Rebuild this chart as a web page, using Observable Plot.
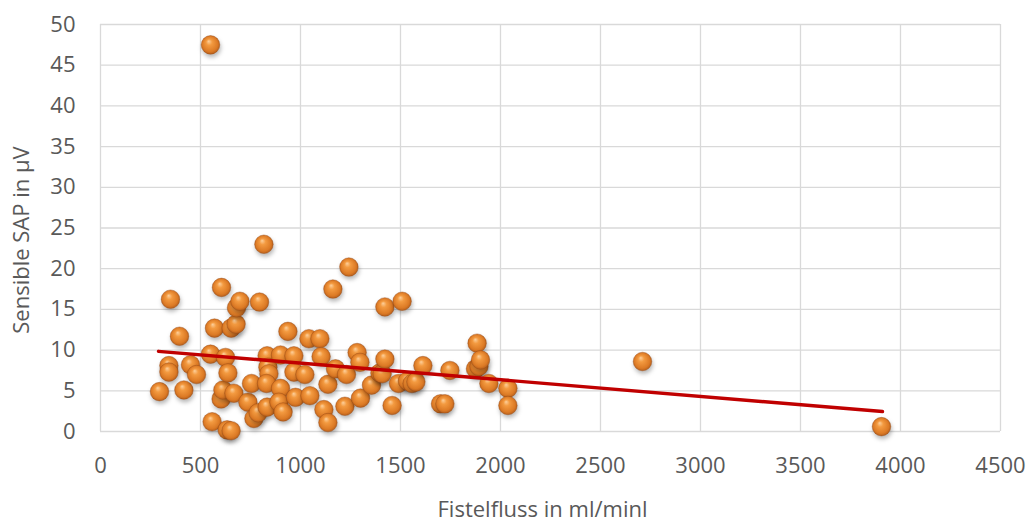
<!DOCTYPE html>
<html>
<head>
<meta charset="utf-8">
<script src="https://cdn.jsdelivr.net/npm/d3@7"></script>
<script src="https://cdn.jsdelivr.net/npm/@observablehq/plot@0.6"></script>
<style>
  html, body { margin: 0; padding: 0; background: #fff; }
  #chart svg { display: block; }
  .balls circle { filter: drop-shadow(1.5px 3px 2px rgba(0,0,0,0.28)); }
</style>
</head>
<body>
<div id="chart"></div>
<script>
// Fistelfluss (ml/min) values
const flow = [295,342,342,350,395,417,450,480,550,550,558,570,605,603,612,625,633,653,637,653,667,678,680,697,
  737,755,767,788,795,817,833,833,837,842,830,900,900,892,913,937,967,967,975,1022,1042,1047,1097,1103,1117,1137,
  1137,1162,1175,1222,1230,1242,1283,1297,1300,1355,1397,1408,1422,1422,1458,1490,1508,1535,1558,1577,1612,1700,
  1722,1747,1875,1883,1892,1900,1942,2037,2037,2710,3905];
// Sensible SAP (µV) values
const sap = [4.9,8.1,7.3,16.25,11.7,5.1,8.2,7.0,47.5,9.5,1.2,12.7,17.7,4.0,5.1,9.1,0.2,0.1,7.2,12.7,4.7,13.2,15.2,16.0,
  3.6,5.9,1.6,2.3,15.9,23.0,9.3,3.0,7.9,7.1,5.9,9.4,5.3,3.6,2.4,12.3,9.3,7.3,4.2,7.0,11.4,4.4,11.4,9.2,2.7,5.8,
  1.1,17.5,7.7,3.1,7.0,20.2,9.7,8.5,4.1,5.7,7.2,7.1,15.3,8.9,3.2,5.9,16.0,6.2,5.9,6.1,8.1,3.4,
  3.4,7.5,7.7,10.85,8.0,8.8,5.9,5.3,3.2,8.6,0.6];
// Linear trend line end points
const trendX = [290, 3910];
const trendY = [9.85, 2.45];
// Tick labels
const xTicks = [0,500,1000,1500,2000,2500,3000,3500,4000,4500];
const yTicks = [0,5,10,15,20,25,30,35,40,45,50];
const xLabel = "Fistelfluss in ml/minl";
const yLabel = "Sensible SAP in µV";

const points = flow.map((x, i) => ({x, y: sap[i]}));
const trend = trendX.map((x, i) => ({x, y: trendY[i]}));

const font = "'Open Sans', sans-serif";

const chart = Plot.plot({
  width: 1036,
  height: 524,
  marginLeft: 100,
  marginRight: 36,
  marginTop: 24,
  marginBottom: 93,
  style: {fontFamily: font, fontSize: "22px", color: "#595959", background: "#fff"},
  x: {domain: [0, 4500]},
  y: {domain: [0, 50]},
  marks: [
    Plot.gridX(xTicks, {stroke: "#d9d9d9", strokeOpacity: 1, strokeWidth: 1.3}),
    Plot.gridY(yTicks, {stroke: "#d9d9d9", strokeOpacity: 1, strokeWidth: 1.3}),
    Plot.axisX(xTicks, {tickSize: 0, tickPadding: 26, label: null, tickFormat: d => String(d), fill: "#595959", fontSize: 22}),
    Plot.axisY(yTicks, {tickSize: 0, tickPadding: 25, label: null, tickFormat: d => String(d), fill: "#595959", fontSize: 22}),
    Plot.dot(points, {x: "x", y: "y", r: 9.3, fill: "url(#ballGrad)", stroke: "#9a4a12", strokeWidth: 0.4, className: "balls"}),
    Plot.line(trend, {x: "x", y: "y", stroke: "#c00000", strokeWidth: 3.4}),
    Plot.text([yLabel], {frameAnchor: "left", rotate: -90, dx: -79, dy: 12, textAnchor: "middle", lineAnchor: "middle", fill: "#595959", fontSize: 22}),
    Plot.text([xLabel], {frameAnchor: "bottom", dy: 78, dx: -8, textAnchor: "middle", lineAnchor: "middle", fill: "#595959", fontSize: 22})
  ]
});

const ns = "http://www.w3.org/2000/svg";
const defs = document.createElementNS(ns, "defs");
defs.innerHTML = `
  <radialGradient id="ballGrad" cx="0.5" cy="0.5" r="0.55" fx="0.4" fy="0.3">
    <stop offset="0" stop-color="#fdd09c"/>
    <stop offset="0.3" stop-color="#f39a40"/>
    <stop offset="0.75" stop-color="#dc7a25"/>
    <stop offset="1" stop-color="#a8561a"/>
  </radialGradient>`;
chart.insertBefore(defs, chart.firstChild);
document.getElementById("chart").appendChild(chart);
</script>
</body>
</html>
